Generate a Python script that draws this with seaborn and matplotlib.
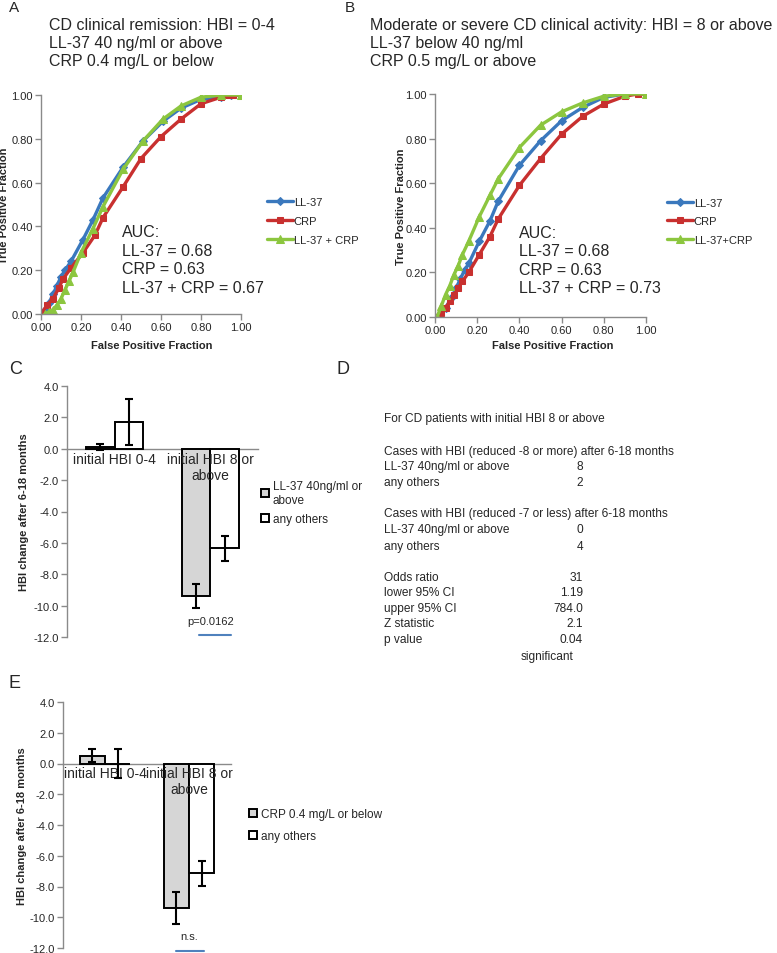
import numpy as np
import pandas as pd
import matplotlib
matplotlib.use("Agg")
import matplotlib.pyplot as plt
import seaborn as sns
from matplotlib.container import BarContainer
from matplotlib.ticker import FormatStrFormatter

# ---------------- data ----------------
roc_series = ["LL-37", "CRP", "LL-37 + CRP"]
roc_series_b = ["LL-37", "CRP", "LL-37+CRP"]

a_ll37_fpr = [0.0, 0.02, 0.04, 0.06, 0.08, 0.10, 0.12, 0.15, 0.21, 0.26, 0.31, 0.41, 0.51, 0.61, 0.70, 0.80, 0.90, 0.95, 1.0]
a_ll37_tpr = [0.0, 0.02, 0.05, 0.09, 0.13, 0.17, 0.20, 0.24, 0.34, 0.43, 0.53, 0.67, 0.79, 0.88, 0.94, 0.98, 0.99, 1.0, 1.0]
a_crp_fpr = [0.0, 0.03, 0.06, 0.09, 0.11, 0.15, 0.21, 0.27, 0.31, 0.41, 0.50, 0.60, 0.70, 0.80, 0.90, 0.93, 0.96, 1.0]
a_crp_tpr = [0.0, 0.04, 0.07, 0.12, 0.16, 0.21, 0.28, 0.36, 0.44, 0.58, 0.71, 0.81, 0.89, 0.96, 0.99, 1.0, 1.0, 1.0]
a_comb_fpr = [0.02, 0.04, 0.06, 0.08, 0.10, 0.12, 0.14, 0.16, 0.20, 0.26, 0.31, 0.41, 0.51, 0.61, 0.70, 0.80, 0.90, 1.0]
a_comb_tpr = [0.0, 0.01, 0.02, 0.04, 0.07, 0.11, 0.15, 0.19, 0.28, 0.39, 0.49, 0.66, 0.79, 0.89, 0.95, 0.99, 1.0, 1.0]

b_ll37_fpr = [0.02, 0.05, 0.08, 0.10, 0.12, 0.14, 0.16, 0.21, 0.26, 0.30, 0.40, 0.50, 0.60, 0.70, 0.80, 0.90, 1.0]
b_ll37_tpr = [0.0, 0.04, 0.09, 0.13, 0.17, 0.21, 0.24, 0.34, 0.43, 0.52, 0.68, 0.79, 0.88, 0.94, 0.985, 1.0, 1.0]
b_crp_fpr = [0.0, 0.03, 0.05, 0.07, 0.09, 0.11, 0.13, 0.16, 0.21, 0.26, 0.30, 0.40, 0.50, 0.60, 0.70, 0.80, 0.90, 0.96, 1.0]
b_crp_tpr = [0.0, 0.02, 0.04, 0.07, 0.10, 0.13, 0.16, 0.20, 0.28, 0.36, 0.44, 0.59, 0.71, 0.82, 0.90, 0.955, 0.99, 1.0, 1.0]
b_comb_fpr = [0.01, 0.03, 0.05, 0.07, 0.09, 0.11, 0.13, 0.16, 0.21, 0.26, 0.30, 0.40, 0.50, 0.60, 0.70, 0.80, 0.90, 1.0]
b_comb_tpr = [0.0, 0.05, 0.10, 0.14, 0.19, 0.23, 0.28, 0.34, 0.45, 0.545, 0.62, 0.76, 0.86, 0.92, 0.96, 0.99, 1.0, 1.0]

roc_ticks = [0.0, 0.2, 0.4, 0.6, 0.8, 1.0]

title_a = ["CD clinical remission: HBI = 0-4", "LL-37 40 ng/ml or above", "CRP 0.4 mg/L or below"]
title_b = ["Moderate or severe CD clinical activity: HBI = 8 or above", "LL-37 below 40 ng/ml", "CRP 0.5 mg/L or above"]
auc_a = ["AUC:", "LL-37 = 0.68", "CRP = 0.63", "LL-37 + CRP = 0.67"]
auc_b = ["AUC:", "LL-37 = 0.68", "CRP = 0.63", "LL-37 + CRP = 0.73"]

bar_categories = ["initial HBI 0-4", "initial HBI 8 or\nabove"]
c_groups = ["LL-37 40ng/ml or\nabove", "any others"]
c_mean_ll37 = [0.1, -9.4]
c_err_ll37 = [0.21, 0.75]
c_mean_other = [1.7, -6.35]
c_err_other = [1.45, 0.82]

e_groups = ["CRP 0.4 mg/L or below", "any others"]
e_mean_crp = [0.5, -9.4]
e_err_crp = [0.43, 1.03]
e_mean_other = [0.0, -7.15]
e_err_other = [0.92, 0.8]

bar_yticks = [4.0, 2.0, 0.0, -2.0, -4.0, -6.0, -8.0, -10.0, -12.0]

d_header = "For CD patients with initial HBI 8 or above"
d_rows = [
    ("Cases with HBI (reduced -8 or more) after 6-18 months", ""),
    ("LL-37 40ng/ml or above", "8"),
    ("any others", "2"),
    ("Cases with HBI (reduced -7 or less) after 6-18 months", ""),
    ("LL-37 40ng/ml or above", "0"),
    ("any others", "4"),
    ("Odds ratio", "31"),
    ("lower 95% CI", "1.19"),
    ("upper 95% CI", "784.0"),
    ("Z statistic", "2.1"),
    ("p value", "0.04"),
]
d_footer = "significant"

# ---------------- style ----------------
sns.set_style("white")
FONT = ["Liberation Sans", "DejaVu Sans"]
plt.rcParams["font.family"] = FONT
plt.rcParams["axes.unicode_minus"] = False

BLUE = "#3a78bd"
RED = "#c8302f"
GREEN = "#8cc63f"
GRAY_AX = "#8a8a8a"
BAR_GRAY = "#d6d6d6"

W, H = 777, 954
fig = plt.figure(figsize=(W / 100, H / 100), dpi=100)


def px_axes(x0, x1, y0, y1):
    return fig.add_axes([x0 / W, 1 - y1 / H, (x1 - x0) / W, (y1 - y0) / H])


def ftext(x, y, s, **kw):
    return fig.text(x / W, 1 - y / H, s, **kw)


def style_roc(ax, xlab_x, xlab_y, ylab_x):
    ax.set_xlim(0, 1)
    ax.set_ylim(0, 1)
    ax.set_xticks(roc_ticks)
    ax.set_yticks(roc_ticks)
    ax.xaxis.set_major_formatter(FormatStrFormatter("%.2f"))
    ax.yaxis.set_major_formatter(FormatStrFormatter("%.2f"))
    for s in ["top", "right"]:
        ax.spines[s].set_visible(False)
    for s in ["left", "bottom"]:
        ax.spines[s].set_color(GRAY_AX)
        ax.spines[s].set_linewidth(1.0)
    ax.tick_params(axis="both", direction="out", length=4, width=1, color=GRAY_AX,
                   labelsize=8, pad=2, left=True, bottom=True)
    ax.set_xlabel("False Positive Fraction", fontsize=8, fontweight="bold")
    ax.set_ylabel("True Positive Fraction", fontsize=8, fontweight="bold")
    ax.xaxis.set_label_coords(xlab_x, xlab_y)
    ax.yaxis.set_label_coords(ylab_x, 0.5)
    ax.patch.set_alpha(0)


def roc_panel(ax, series, labels):
    styles = [(BLUE, "D", 4.3), (RED, "s", 4.8), (GREEN, "^", 5.2)]
    for (fpr, tpr), lab, (col, mk, ms) in zip(series, labels, styles):
        sns.lineplot(x=fpr, y=tpr, ax=ax, color=col, marker=mk, markersize=ms,
                     markeredgecolor=col, markerfacecolor=col, linewidth=2.4,
                     estimator=None, sort=False, label=lab)


# ---------------- panel A ----------------
axA = px_axes(41, 241, 96, 315)
roc_panel(axA, [(a_ll37_fpr, a_ll37_tpr), (a_crp_fpr, a_crp_tpr), (a_comb_fpr, a_comb_tpr)], roc_series)
style_roc(axA, 0.555, -0.12, -0.16)
h, l = axA.get_legend_handles_labels()
axA.legend(h, l, loc="upper left", bbox_to_anchor=(267 / W, 1 - 198 / H), bbox_transform=fig.transFigure,
           frameon=False, fontsize=8, handlelength=2.3, handletextpad=0.1, labelspacing=0.8,
           borderpad=0, borderaxespad=0, numpoints=1)

# ---------------- panel B ----------------
axB = px_axes(435, 646, 95, 318)
roc_panel(axB, [(b_ll37_fpr, b_ll37_tpr), (b_crp_fpr, b_crp_tpr), (b_comb_fpr, b_comb_tpr)], roc_series_b)
style_roc(axB, 0.56, -0.105, -0.137)
h, l = axB.get_legend_handles_labels()
axB.legend(h, l, loc="upper left", bbox_to_anchor=(667 / W, 1 - 199 / H), bbox_transform=fig.transFigure,
           frameon=False, fontsize=8, handlelength=2.3, handletextpad=0.1, labelspacing=0.75,
           borderpad=0, borderaxespad=0, numpoints=1)

# titles and AUC text
ftext(9, 1, "A", fontsize=11, va="top")
ftext(345, 1, "B", fontsize=11, va="top")
for i, s in enumerate(title_a):
    ftext(49, 30 + 18 * i, s, fontsize=11.5, va="baseline")
for i, s in enumerate(title_b):
    ftext(370, 30 + 18 * i, s, fontsize=11.5, va="baseline")
for i, s in enumerate(auc_a):
    ftext(122, 237 + 18.7 * i, s, fontsize=11.5, va="baseline")
for i, s in enumerate(auc_b):
    ftext(519, 238 + 18.5 * i, s, fontsize=11.5, va="baseline")


# ---------------- bar panels ----------------
def bar_panel(ax, groups, means_a, errs_a, means_b, errs_b, leg_xy, leg_spacing, ylab_x):
    df = pd.DataFrame({
        "category": bar_categories * 2,
        "group": [groups[0]] * 2 + [groups[1]] * 2,
        "value": list(means_a) + list(means_b),
    })
    sns.barplot(data=df, x="category", y="value", hue="group", order=bar_categories,
                hue_order=groups, palette=[BAR_GRAY, "white"], edgecolor="black",
                linewidth=1.4, width=0.6, errorbar=None, ax=ax, legend=False, saturation=1)
    bar_conts = [c for c in ax.containers if isinstance(c, BarContainer)]
    for cont, err in zip(bar_conts, [errs_a, errs_b]):
        xs = [p.get_x() + p.get_width() / 2 for p in cont.patches]
        ys = [p.get_height() for p in cont.patches]
        ax.errorbar(xs, ys, yerr=err, fmt="none", ecolor="black", elinewidth=1.5,
                    capsize=3.2, capthick=1.5, zorder=4)
    ax.set_ylim(-12, 4)
    ax.set_xlim(-0.5, 1.5)
    ax.set_yticks(bar_yticks)
    ax.yaxis.set_major_formatter(FormatStrFormatter("%.1f"))
    ax.set_xticks([0, 1])
    ax.set_xticklabels(bar_categories, fontsize=8, linespacing=1.25, fontfamily=FONT)
    ax.set_xticks([-0.5, 0.5, 1.5], minor=True)
    ax.tick_params(axis="x", which="major", length=0, pad=2)
    ax.tick_params(axis="x", which="minor", length=4, width=1, color=GRAY_AX, direction="out")
    ax.tick_params(axis="y", length=4, width=1, color=GRAY_AX, direction="out", labelsize=8, pad=2, left=True)
    ax.xaxis.set_zorder(3)
    for s in ["top", "right"]:
        ax.spines[s].set_visible(False)
    ax.spines["bottom"].set_position(("data", 0))
    for s in ["left", "bottom"]:
        ax.spines[s].set_color(GRAY_AX)
        ax.spines[s].set_linewidth(1.0)
    ax.spines["bottom"].set_zorder(0.5)
    ax.set_xlabel("")
    ax.set_ylabel("HBI change after 6-18 months", fontsize=8, fontweight="bold")
    ax.yaxis.set_label_coords(ylab_x, 0.5)
    ax.patch.set_alpha(0)
    handles = [cont.patches[0] for cont in bar_conts]
    ax.legend(handles, groups, loc="upper left", bbox_to_anchor=(leg_xy[0] / W, 1 - leg_xy[1] / H),
              bbox_transform=fig.transFigure, frameon=False, fontsize=8.5, handlelength=0.65,
              handleheight=0.65, handletextpad=0.35, labelspacing=leg_spacing, borderpad=0,
              borderaxespad=0)


axC = px_axes(67, 258, 387, 638)
bar_panel(axC, c_groups, c_mean_ll37, c_err_ll37, c_mean_other, c_err_other, (261, 481), 0.6, -0.2)
axC.text(1, -11.0, "p=0.0162", ha="center", va="center", fontsize=8)
axC.plot([0.885, 1.22], [-11.87, -11.87], color="#4f81bd", lw=1.5, clip_on=False)

axE = px_axes(63, 231, 703, 949)
bar_panel(axE, e_groups, e_mean_crp, e_err_crp, e_mean_other, e_err_other, (249, 809), 0.85, -0.214)
axE.text(1, -11.2, "n.s.", ha="center", va="center", fontsize=8)
axE.plot([0.845, 1.18], [-12.19, -12.19], color="#4f81bd", lw=1.5, clip_on=False)

ftext(9, 361, "C", fontsize=13, va="top")
ftext(337, 361, "D", fontsize=13, va="top")
ftext(9, 675, "E", fontsize=13, va="top")

# ---------------- panel D text ----------------
ftext(384, 419, d_header, fontsize=8.6, va="center")
d_y = [452, 467, 483, 514, 530, 547, 578, 593, 609, 624, 640]
for (lab, val), y in zip(d_rows, d_y):
    ftext(384, y, lab, fontsize=8.6, va="center")
    if val:
        ftext(583, y, val, fontsize=8.6, va="center", ha="right")
ftext(547, 657, d_footer, fontsize=8.6, va="center", ha="center")

fig.savefig("out.png", dpi=100)
